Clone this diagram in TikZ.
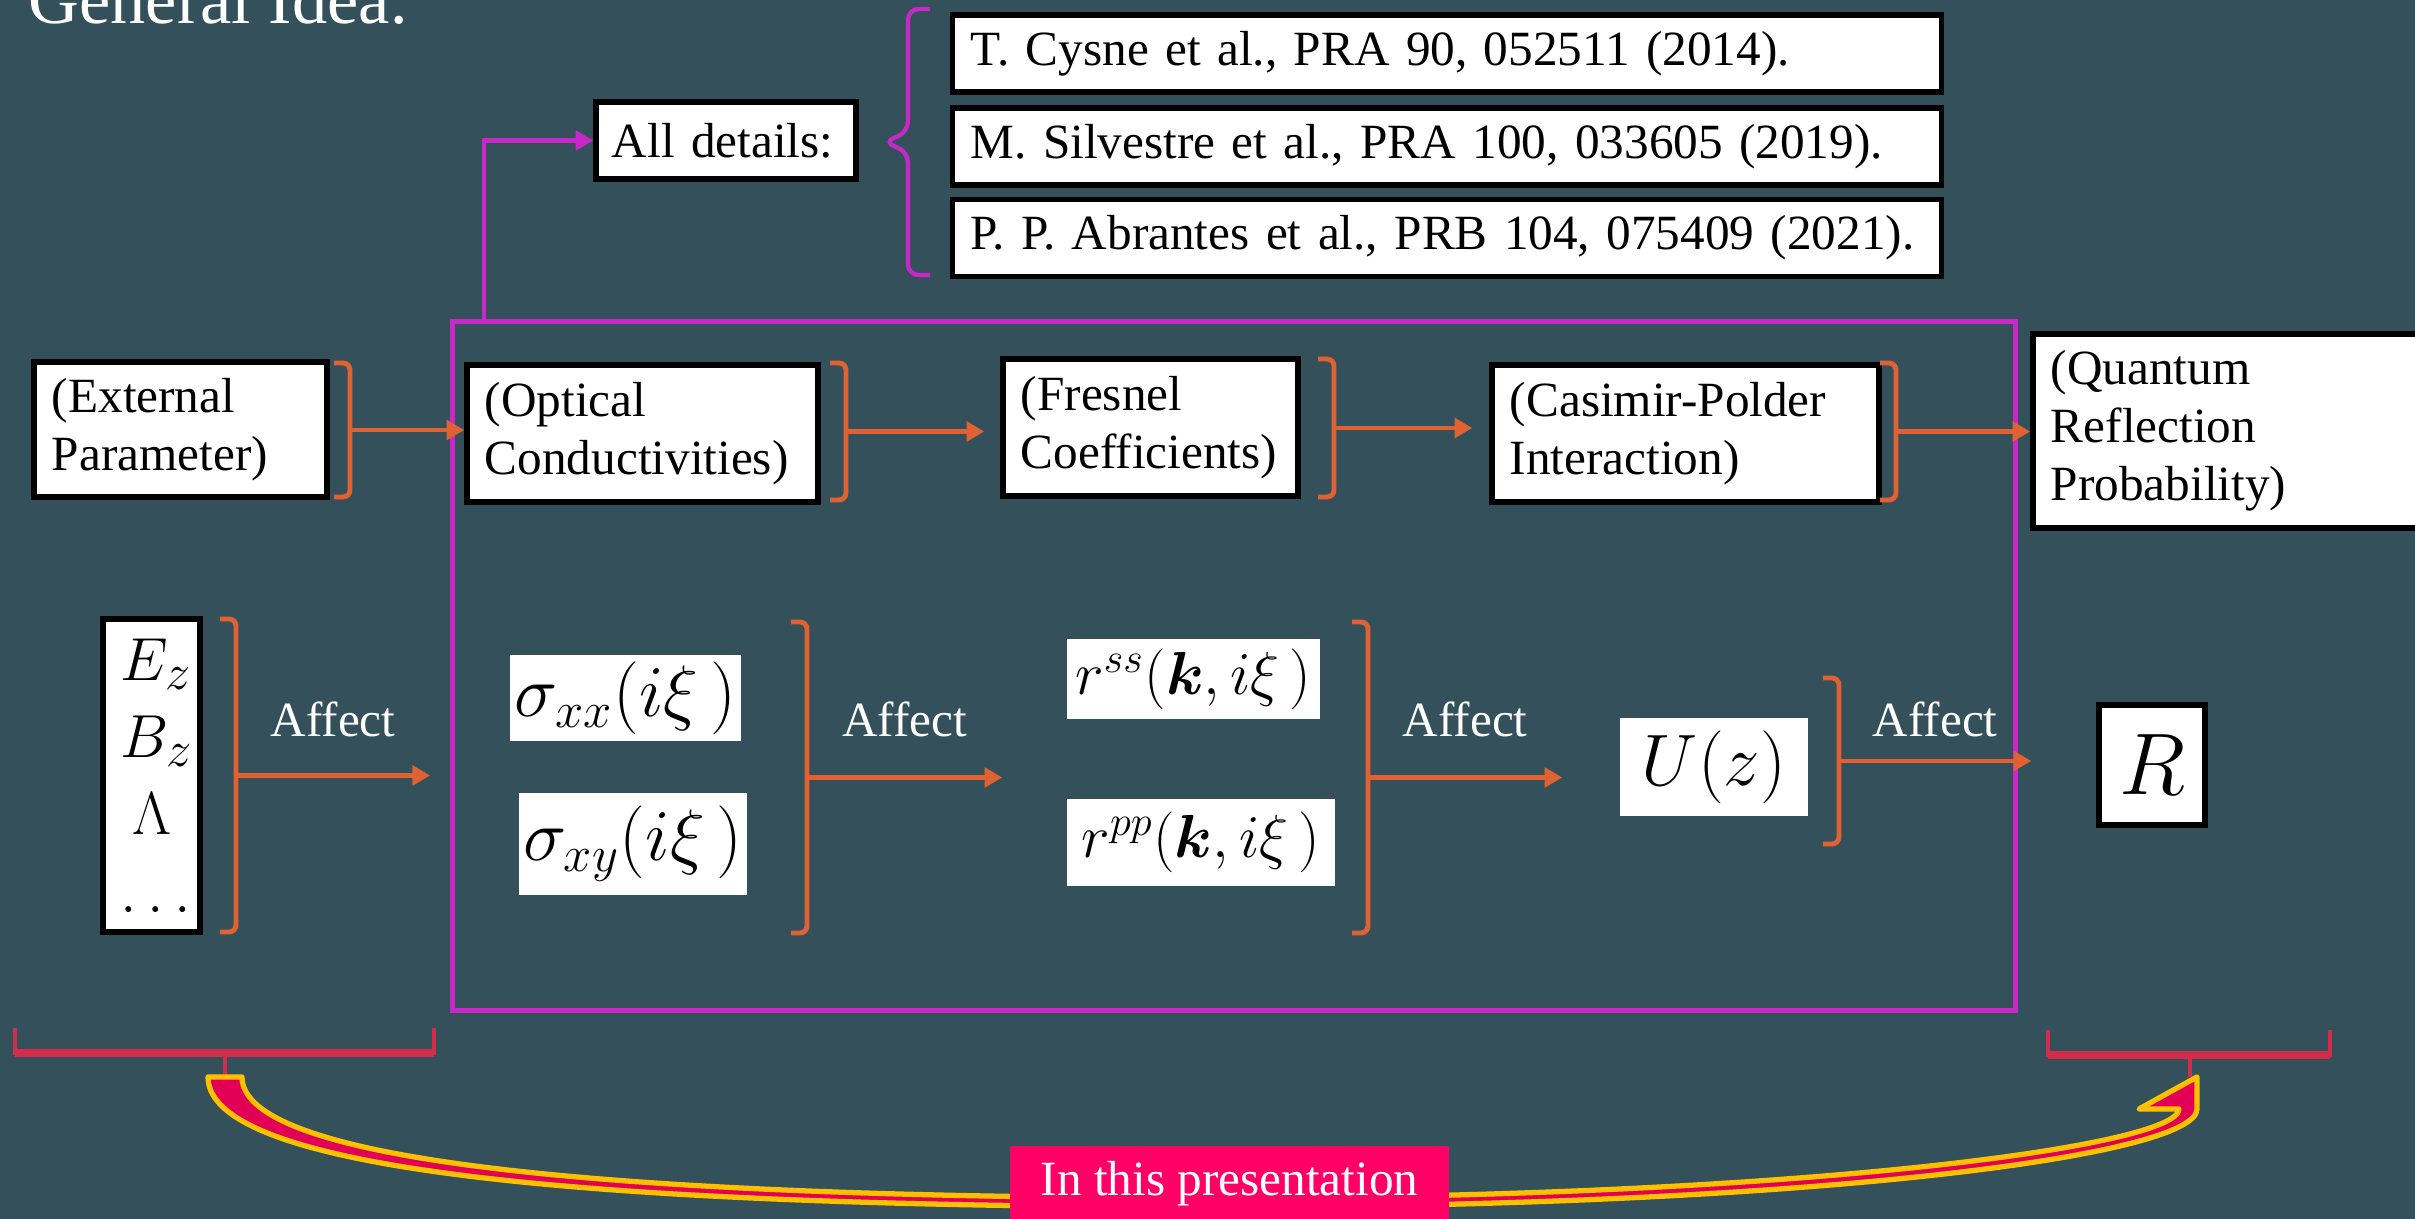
\documentclass[tikz,border=0pt]{standalone}
\usepackage{amsmath}
\usepackage{fontspec}
\setmainfont{Liberation Serif}
\usetikzlibrary{arrows.meta, positioning, calc}
\definecolor{slidebg}{RGB}{52,80,91}
\definecolor{brkorange}{RGB}{224,98,50}
\definecolor{framemag}{RGB}{200,40,200}
\definecolor{bracered}{RGB}{210,46,76}
\definecolor{arrowpink}{RGB}{225,0,85}
\definecolor{arrowgold}{RGB}{255,192,0}
\definecolor{labelpink}{RGB}{255,0,102}

\begin{document}
\begin{tikzpicture}[
  x=0.01cm, y=-0.01cm,
  txt/.style={font=\fontsize{14}{16.5}\selectfont},
  box/.style={rectangle, draw=black, line width=1.5pt, fill=white, txt,
              align=left, inner xsep=0.18cm, inner ysep=0pt},
  refbox/.style={box, minimum height=0.77cm, text width=9.52cm},
  eqbox/.style={rectangle, fill=white, inner sep=0pt,
                font=\fontsize{20}{24}\selectfont},
  brk/.style={brkorange, line width=1.4pt, rounded corners=2pt},
  arr/.style={brkorange, line width=1.4pt, -{Triangle[length=5pt, width=5.5pt]}},
  magarr/.style={framemag, line width=1.2pt, -{Triangle[length=5pt, width=5.5pt]}},
  affect/.style={txt, text=white, inner sep=0pt},
  redbr/.style={bracered, line width=0.9pt},
  curvearr/.style={fill=arrowpink, draw=arrowgold, line width=1.5pt, line join=round}
]
\useasboundingbox (0,0) rectangle (2415,1219);
\fill[slidebg] (0,0) rectangle (2415,1219);

% Title
\node[anchor=base west, text=white, font=\fontsize{20}{24}\selectfont, inner sep=0pt]
  (title) at (28,24) {General Idea:};

% Frame round the chain
\node[draw=framemag, line width=1.4pt, minimum width=15.62cm, minimum height=6.88cm]
  (frame) at (1234,666) {};

% References
\node[box, minimum height=0.77cm, text width=2.28cm, inner xsep=0.16cm] (alld) at (726,140.5) {All details:};
\node[refbox] (ref1) at (1447,53.5) {T. Cysne et al., PRA 90, 052511 (2014).};
\node[refbox] (ref2) at (1447,146.5) {M. Silvestre et al., PRA 100, 033605 (2019).};
\node[refbox] (ref3) at (1447,238) {P. P. Abrantes et al., PRB 104, 075409 (2021).};
\draw[framemag, line width=1.2pt, rounded corners=3pt]
  (930,9) -- (908,9) -- (908,132) -- (884,142) -- (908,152) -- (908,275) -- (930,275);
\draw[magarr] ([xshift=0.34cm]frame.north west) |- (alld.west);

% Top row
\node[box, text width=2.57cm, minimum height=1.35cm] (ext) at (180.5,429.5) {(External\\Parameter)};
\node[box, text width=3.15cm, minimum height=1.37cm] (opt) at (642.5,433.5) {(Optical\\Conductivities)};
\node[box, text width=2.59cm, minimum height=1.37cm] (fres) at (1150.5,427.5) {(Fresnel\\Coefficients)};
\node[box, text width=3.51cm, minimum height=1.37cm] (cas) at (1685.5,433.5) {(Casimir-Polder\\Interaction)};
\node[box, text width=3.71cm, minimum height=1.94cm] (qrp) at (2236.5,431) {(Quantum\\Reflection\\Probability)};

\draw[brk] (334,363) -- (350,363) -- (350,497) -- (334,497);
\coordinate (m1) at (350,430);
\draw[brk] (830,363) -- (846,363) -- (846,500) -- (830,500);
\coordinate (m2) at (846,431.5);
\draw[brk] (1318,359) -- (1334,359) -- (1334,497) -- (1318,497);
\coordinate (m3) at (1334,428);
\draw[brk] (1880,363) -- (1896,363) -- (1896,500) -- (1880,500);
\coordinate (m4) at (1896,431.5);

\draw[arr] (m1) -- (m1 -| opt.west);
\draw[arr] (m2) -- ([xshift=-0.16cm]m2 -| fres.west);
\draw[arr] (m3) -- ([xshift=-0.17cm]m3 -| cas.west);
\draw[arr] (m4) -- (m4 -| qrp.west);

% Bottom row
\node[box, align=center, text width=0.61cm, minimum height=3.13cm,
      font=\fontsize{19}{22}\selectfont] (fld) at (151.5,775.5)
  {$E_z$\\$B_z$\\$\Lambda$\\$\dots$};
\node[eqbox, minimum width=2.31cm, minimum height=0.86cm] (sxx) at (625.5,698) {$\sigma_{xx}(i\xi\,)$};
\node[eqbox, minimum width=2.28cm, minimum height=1.02cm] (sxy) at (633,844) {$\sigma_{xy}(i\xi\,)$};
\node[eqbox, minimum width=2.53cm, minimum height=0.80cm, font=\fontsize{18}{22}\selectfont]
  (rss) at (1193.5,679) {$r^{ss}(\boldsymbol{k},i\xi\,)$};
\node[eqbox, minimum width=2.68cm, minimum height=0.87cm, font=\fontsize{18}{22}\selectfont]
  (rpp) at (1201,842.5) {$r^{pp}(\boldsymbol{k},i\xi\,)$};
\node[eqbox, minimum width=1.88cm, minimum height=0.98cm, font=\fontsize{22}{26}\selectfont]
  (uz) at (1714,767) {$U(z)$};
\node[box, align=center, minimum width=1.06cm, minimum height=1.20cm, inner xsep=0pt,
      font=\fontsize{28}{32}\selectfont] (rbox) at (2152,765) {$R$};

\draw[brk] (220,619) -- (236,619) -- (236,932) -- (220,932);
\coordinate (m5) at (236,775.5);
\draw[brk] (791,622) -- (807,622) -- (807,933) -- (791,933);
\coordinate (m6) at (807,777.5);
\draw[brk] (1352,622) -- (1368,622) -- (1368,933) -- (1352,933);
\coordinate (m7) at (1368,777.5);
\draw[brk] (1823,678) -- (1839,678) -- (1839,844) -- (1823,844);
\coordinate (m8) at (1839,761);

\draw[arr] (m5) -- node[affect, yshift=0.565cm] {Affect} ([xshift=-0.2cm]m5 -| frame.west);
\draw[arr] (m6) -- node[affect, yshift=0.585cm] {Affect} ([xshift=-0.64cm]m6 -| rss.west);
\draw[arr] (m7) -- node[affect, yshift=0.585cm] {Affect} ([xshift=-0.57cm]m7 -| uz.west);
\draw[arr] (m8) -- node[affect, yshift=0.42cm] {Affect} ([xshift=-0.65cm]m8 -| rbox.west);

% Braces under both ends
\draw[redbr] (15,1028) |- (434,1053) -- (434,1028);
\draw[bracered, line width=2pt] (15,1053) -- (434,1053);
\coordinate (ltip) at (225,1077);
\draw[redbr] (225,1053) -- (ltip);
\draw[redbr] (2048,1030) |- (2330,1055) -- (2330,1030);
\draw[bracered, line width=2pt] (2048,1055) -- (2330,1055);
\coordinate (rtip) at (2197,1077);
\draw[redbr] (2190,1055) -- (2190,1077);

% Curved arrow and its label
\coordinate (bot) at (1220,1207);
\filldraw[curvearr] ($(ltip)+(-17,0)$) .. controls ($(ltip)+(-17,95)$) and (600,1207) .. (bot)
  .. controls (1800,1207) and ($(rtip)+(0,80)$) .. ($(rtip)+(0,32)$)
  -- (rtip) -- ($(rtip)+(-58,32)$) -- ($(rtip)+(-18,32)$)
  .. controls ($(rtip)+(-18,70)$) and (1790,1198) .. ($(bot)+(0,-9)$)
  .. controls (610,1198) and ($(ltip)+(17,85)$) .. ($(ltip)+(17,0)$) -- cycle;
\node[fill=labelpink, text=white, txt, minimum width=4.39cm, minimum height=0.76cm]
  (pres) at (1229.5,1184) {In this presentation};

\end{tikzpicture}
\end{document}
